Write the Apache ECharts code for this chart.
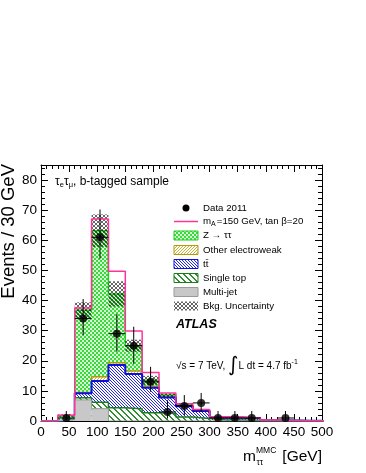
<!DOCTYPE html>
<html>
<head>
<meta charset="utf-8">
<script src="https://cdn.jsdelivr.net/npm/echarts@6/dist/echarts.min.js"></script>
<style>
html, body { margin: 0; padding: 0; background: #fff; }
#chart { width: 366px; height: 473px; }
</style>
</head>
<body>
<div id="chart"></div>
<script>
// lower edges of the 30 GeV mass bins
const binStart = [0, 30, 60, 90, 120, 150, 180, 210, 240, 270, 300, 330, 360, 390, 420, 450, 480]
const binWidth = 30

// background expectation per bin (stack order, bottom first)
const multiJet = [0, 0.4, 7.0, 4.1, 0, 0, 0, 0, 0, 0, 0, 0, 0, 0, 0, 0, 0]
const singleTop = [0, 0.1, 0.7, 2.1, 4.4, 4.1, 2.7, 2.5, 1.3, 0.8, 0.3, 0.3, 0.2, 0.1, 0.05, 0, 0]
const ttbar = [0, 0.1, 1.5, 7.1, 14.2, 11.5, 8.3, 5.3, 3.6, 2.5, 0.8, 0.8, 0.7, 0.1, 0.1, 0.05, 0.05]
const otherEW = [0, 0, 0.3, 1.4, 0.7, 1.0, 0.5, 0.3, 0.2, 0.2, 0.05, 0.05, 0.05, 0, 0, 0, 0]
const zTauTau = [0, 1.2, 27.3, 48.5, 22.9, 8.4, 2.0, 0.5, 0.2, 0.1, 0.1, 0.05, 0.05, 0.05, 0, 0, 0]
// half width of the background uncertainty band
const bkgError = [0, 0.4, 2.6, 5.4, 4.2, 2.0, 1.5, 0.6, 0.5, 0.4, 0.2, 0.2, 0.2, 0.1, 0.1, 0, 0]
// signal (mA=150, tan b=20) on top of the background
const signalPlusBkg = [0, 1.9, 37.5, 67.1, 49.7, 29.9, 16.1, 9.3, 5.7, 3.8, 1.4, 1.3, 1.0, 0.3, 0.2, 0.1, 0.1]

// Data 2011
const dataMass = [45, 75, 105, 135, 165, 195, 225, 255, 285, 315, 345, 375, 435]
const dataCounts = [1, 34, 61, 29, 25, 13, 3, 5, 6, 1, 1, 1, 1]
const dataErrLow = [0.8, 5.5, 7.1, 6.0, 6.0, 3.3, 2.2, 3.1, 3.0, 0.8, 0.8, 0.8, 0.8]
const dataErrHigh = [2.3, 6.5, 9.2, 6.5, 6.3, 5.0, 3.9, 3.6, 3.3, 2.3, 2.3, 2.3, 2.3]

const FONT = "'Liberation Sans', Arial, sans-serif"

// small canvas patterns used as fills
function pixelPattern(size, bg, draw) {
    const c = document.createElement('canvas')
    c.width = size
    c.height = size
    const ctx = c.getContext('2d')
    if (bg) {
        ctx.fillStyle = bg
        ctx.fillRect(0, 0, size, size)
    }
    draw(ctx, size)
    return { image: c, repeat: 'repeat' }
}

function hatch(size, color, down, thick) {
    return pixelPattern(size, '#ffffff', (ctx, s) => {
        ctx.fillStyle = color
        for (let i = 0; i < s; i++) {
            for (let k = 0; k < thick; k++) {
                const y = down ? (i + k) % s : (s - 1 - i + k) % s
                ctx.fillRect(i, y, 1, 1)
            }
        }
    })
}

const zFill = pixelPattern(4, '#d4f8d4', (ctx) => {
    ctx.fillStyle = '#3cd83c'
    ctx.fillRect(0, 0, 2, 2)
    ctx.fillRect(2, 2, 2, 2)
})
const ewFill = hatch(3, '#c8b030', false, 1)
const ttFill = hatch(3, '#2424ee', true, 1)
const stFill = hatch(6, '#2f8f2f', true, 2)
const mjFill = '#c8c8c8'
// zig-zag grey hatch for the uncertainty band
const bandFill = pixelPattern(4, null, (ctx, s) => {
    ctx.fillStyle = 'rgba(0,0,0,0.6)'
    for (let i = 0; i < s; i++) {
        ctx.fillRect(i, i, 1, 1)
        ctx.fillRect(i, s - 1 - i, 1, 1)
    }
})

// cumulative stack tops
const layers = [
    { values: multiJet, fill: mjFill, line: '#9a9a9a', width: 1 },
    { values: singleTop, fill: stFill, line: '#1e7a1e', width: 1.5 },
    { values: ttbar, fill: ttFill, line: '#1010dd', width: 2 },
    { values: otherEW, fill: ewFill, line: '#b09a10', width: 1.5 },
    { values: zTauTau, fill: zFill, line: '#22cc22', width: 1.5 }
]
let running = binStart.map(() => 0)
layers.forEach(l => {
    running = running.map((r, i) => r + l.values[i])
    l.tops = running
})
const bkgTotal = layers[layers.length - 1].tops

function fillSeries(tops, fill, z) {
    return {
        type: 'custom',
        z: z,
        silent: true,
        clip: true,
        data: binStart.map((x, i) => [x, tops[i]]),
        encode: { x: 0, y: 1 },
        renderItem: (params, api) => {
            const a = api.coord([api.value(0), 0])
            const b = api.coord([api.value(0) + binWidth, api.value(1)])
            return {
                type: 'rect',
                shape: { x: a[0], y: b[1], width: b[0] - a[0], height: a[1] - b[1] },
                style: { fill: fill }
            }
        }
    }
}

function stepSeries(tops, color, width, z) {
    const pts = binStart.map((x, i) => [x, tops[i]])
    pts.push([binStart[binStart.length - 1] + binWidth, tops[tops.length - 1]])
    return {
        type: 'line',
        step: 'end',
        z: z,
        silent: true,
        clip: true,
        symbol: 'none',
        data: pts,
        lineStyle: { color: color, width: width }
    }
}

const series = []
// ROOT style: the top of the stack is drawn first, lower ones over it
let zz = 2
for (let i = layers.length - 1; i >= 0; i--) {
    series.push(fillSeries(layers[i].tops, layers[i].fill, zz++))
    series.push(stepSeries(layers[i].tops, layers[i].line, layers[i].width, zz++))
}

// uncertainty band
series.push({
    type: 'custom',
    z: zz++,
    silent: true,
    clip: true,
    data: binStart.map((x, i) => [x, bkgTotal[i] - bkgError[i], bkgTotal[i] + bkgError[i]]),
    encode: { x: 0, y: [1, 2] },
    renderItem: (params, api) => {
        if (api.value(2) - api.value(1) <= 0) return null
        const a = api.coord([api.value(0), api.value(1)])
        const b = api.coord([api.value(0) + binWidth, api.value(2)])
        return {
            type: 'rect',
            shape: { x: a[0], y: b[1], width: b[0] - a[0], height: a[1] - b[1] },
            style: { fill: bandFill }
        }
    }
})

// signal + background
series.push(stepSeries(signalPlusBkg, '#ff3399', 1.5, zz++))

// data error bars
series.push({
    type: 'custom',
    z: zz++,
    silent: true,
    data: dataMass.map((x, i) => [x, dataCounts[i], dataCounts[i] - dataErrLow[i], dataCounts[i] + dataErrHigh[i]]),
    encode: { x: 0, y: [1, 2, 3] },
    renderItem: (params, api) => {
        const x = api.value(0)
        const c = api.coord([x, api.value(1)])
        const lo = api.coord([x, api.value(2)])
        const hi = api.coord([x, api.value(3)])
        const l = api.coord([x - binWidth / 2, api.value(1)])
        const r = api.coord([x + binWidth / 2, api.value(1)])
        return {
            type: 'group',
            children: [
                { type: 'line', shape: { x1: c[0], y1: lo[1], x2: c[0], y2: hi[1] }, style: { stroke: '#000', lineWidth: 1 } },
                { type: 'line', shape: { x1: l[0], y1: c[1], x2: r[0], y2: c[1] }, style: { stroke: '#000', lineWidth: 1 } }
            ]
        }
    }
})

// data points
series.push({
    type: 'scatter',
    z: zz++,
    silent: true,
    symbol: 'circle',
    symbolSize: 8,
    itemStyle: { color: '#000' },
    data: dataMass.map((x, i) => [x, dataCounts[i]])
})

const tickStyle = { color: '#000', width: 1 }
function xAx(pos, labels) {
    return {
        type: 'value', position: pos, min: 0, max: 500, interval: 50,
        axisLine: { show: true, onZero: false, lineStyle: tickStyle },
        axisTick: { show: true, inside: true, length: 7, lineStyle: tickStyle },
        minorTick: { show: true, splitNumber: 5, length: 4, lineStyle: tickStyle },
        splitLine: { show: false },
        axisLabel: { show: labels, color: '#000', fontSize: 13.5, margin: 4, fontFamily: FONT }
    }
}
function yAx(pos, labels) {
    return {
        type: 'value', position: pos, min: 0, max: 85, interval: 10,
        axisLine: { show: true, onZero: false, lineStyle: tickStyle },
        axisTick: { show: true, inside: true, length: 7, lineStyle: tickStyle },
        minorTick: { show: true, splitNumber: 5, length: 4, lineStyle: tickStyle },
        splitLine: { show: false },
        axisLabel: { show: labels, color: '#000', fontSize: 13.5, margin: 4, showMaxLabel: false, fontFamily: FONT }
    }
}

// legend drawn by hand (patterned swatches)
const legendTextStyle = { fill: '#000', fontSize: 9.7, fontFamily: FONT, verticalAlign: 'middle' }
const legendRows = [
    { y: 208, kind: 'dot', text: 'Data 2011' },
    { y: 221.5, kind: 'line', text: 'm{sub|A}=150 GeV, tan β=20' },
    { y: 235.5, kind: 'box', fill: zFill, stroke: '#22cc22', text: 'Z → ττ' },
    { y: 250, kind: 'box', fill: ewFill, stroke: '#b09a10', text: 'Other electroweak' },
    { y: 264, kind: 'box', fill: ttFill, stroke: '#1010dd', text: 't{tb|t̄}' },
    { y: 278, kind: 'box', fill: stFill, stroke: '#1e7a1e', text: 'Single top' },
    { y: 292, kind: 'box', fill: mjFill, stroke: '#9a9a9a', text: 'Multi-jet' },
    { y: 306, kind: 'box', fill: bandFill, stroke: null, text: 'Bkg. Uncertainty' }
]
const legendEls = []
legendRows.forEach(r => {
    if (r.kind === 'dot') {
        legendEls.push({ type: 'circle', shape: { cx: 186, cy: r.y, r: 3.5 }, style: { fill: '#000' } })
    } else if (r.kind === 'line') {
        legendEls.push({ type: 'line', shape: { x1: 174, y1: r.y, x2: 198, y2: r.y }, style: { stroke: '#ff3399', lineWidth: 1.5 } })
    } else {
        legendEls.push({
            type: 'rect', shape: { x: 174, y: r.y - 4.5, width: 24, height: 9 },
            style: { fill: r.fill, stroke: r.stroke || null, lineWidth: 1 }
        })
    }
    legendEls.push({
        type: 'text', x: 203, y: r.y,
        style: Object.assign({
            text: r.text,
            rich: {
                sub: { fontSize: 7, fontFamily: FONT, padding: [6, 1, 0, 0] },
                tb: { fontSize: 9.7, fontFamily: FONT }
            }
        }, legendTextStyle)
    })
})

const option = {
    animation: false,
    textStyle: { fontFamily: FONT },
    grid: { left: 41, right: 44, top: 165, bottom: 52, containLabel: false },
    xAxis: [xAx('bottom', true), xAx('top', false)],
    yAxis: [yAx('left', true), yAx('right', false)],
    series: series,
    graphic: [
        {
            type: 'text', x: 9, y: 164, rotation: Math.PI / 2,
            style: { text: 'Events / 30 GeV', fontSize: 18.5, fontFamily: FONT, fill: '#000', align: 'right', verticalAlign: 'middle' }
        },
        // x axis title
        { type: 'text', x: 322, y: 457, style: { text: '[GeV]', fontSize: 15.5, fontFamily: FONT, fill: '#000', align: 'right', verticalAlign: 'middle' } },
        { type: 'text', x: 256, y: 457, style: { text: 'm', fontSize: 15.5, fontFamily: FONT, fill: '#000', align: 'right', verticalAlign: 'middle' } },
        { type: 'text', x: 256, y: 451, style: { text: 'MMC', fontSize: 8.5, fontFamily: FONT, fill: '#000', align: 'left', verticalAlign: 'middle' } },
        { type: 'text', x: 256.5, y: 463, style: { text: 'ττ', fontSize: 8.5, fontFamily: FONT, fill: '#000', align: 'left', verticalAlign: 'middle' } },
        // sample label
        {
            type: 'text', x: 55, y: 182,
            style: {
                text: '{t|τ}{s|e}{t|τ}{s|μ}{t|, b-tagged sample}',
                verticalAlign: 'middle', fill: '#000',
                rich: {
                    t: { fontSize: 12, fontFamily: FONT },
                    s: { fontSize: 7.5, fontFamily: FONT, padding: [6, 0, 0, 0] }
                }
            }
        },
        { type: 'group', children: legendEls },
        {
            type: 'text', x: 176, y: 325,
            style: { text: 'ATLAS', fontSize: 12.5, fontWeight: 'bold', fontStyle: 'italic', fontFamily: FONT, fill: '#000', verticalAlign: 'middle' }
        },
        {
            type: 'text', x: 176, y: 366,
            style: {
                text: '{t|√s = 7 TeV, }{i|∫}{t|L dt = 4.7 fb}{u|-1}',
                verticalAlign: 'middle', fill: '#000',
                rich: {
                    t: { fontSize: 10, fontFamily: FONT },
                    i: { fontSize: 20, fontFamily: "'DejaVu Sans', sans-serif" },
                    u: { fontSize: 7, fontFamily: FONT, padding: [0, 0, 8, 0] }
                }
            }
        }
    ]
}

const chart = echarts.init(document.getElementById('chart'))
chart.setOption(option)
</script>
</body>
</html>
